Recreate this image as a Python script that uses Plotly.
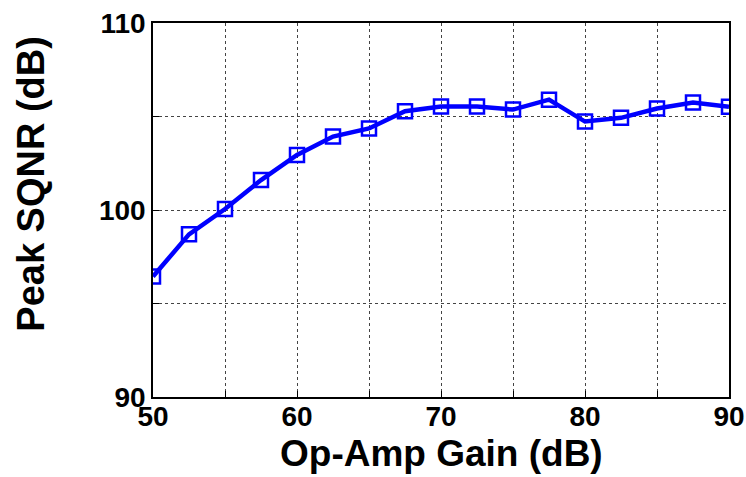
import plotly.graph_objects as go

gain_db = [50, 52.5, 55, 57.5, 60, 62.5, 65, 67.5, 70, 72.5, 75, 77.5, 80, 82.5, 85, 87.5, 90]
peak_sqnr = [96.44, 98.7, 100.05, 101.6, 102.94, 103.93, 104.36, 105.28, 105.53, 105.53,
             105.37, 105.9, 104.73, 104.93, 105.43, 105.75, 105.52]

x_tickvals = [50, 55, 60, 65, 70, 75, 80, 85, 90]
x_ticktext = ["50", "", "60", "", "70", "", "80", "", "90"]
y_tickvals = [90, 95, 100, 105, 110]
y_ticktext = ["90", "", "100", "", "110"]

font_family = "Liberation Sans, Arial, sans-serif"

fig = go.Figure()
fig.add_trace(go.Scatter(
    x=gain_db, y=peak_sqnr, mode="lines+markers",
    line=dict(color="#0000FF", width=4.5),
    marker=dict(symbol="square-open", size=14, color="#0000FF", line=dict(width=2.5, color="#0000FF")),
    showlegend=False,
))

axis_common = dict(
    showline=True, linecolor="black", linewidth=1.5, mirror=True,
    ticks="inside", ticklen=6, tickcolor="black",
    showgrid=True, gridcolor="#444444", gridwidth=1, griddash="dot",
    zeroline=False, automargin=False,
    tickfont=dict(family=font_family, size=28, color="black", weight="bold"),
)

fig.update_xaxes(
    range=[50, 90], tickvals=x_tickvals, ticktext=x_ticktext,
    ticklabelstandoff=-6,
    **axis_common,
)
fig.update_yaxes(
    range=[90, 110], tickvals=y_tickvals, ticktext=y_ticktext,
    **axis_common,
)

fig.add_annotation(
    text="<b>Op-Amp Gain (dB)</b>", xref="paper", yref="paper",
    x=0.5, y=-0.15, xanchor="center", yanchor="middle", showarrow=False,
    font=dict(family=font_family, size=37, color="black"),
)
fig.add_annotation(
    text="<b>Peak SQNR (dB)</b>", xref="paper", yref="paper",
    x=-0.212, y=0.57, xanchor="center", yanchor="middle", showarrow=False,
    textangle=-90,
    font=dict(family=font_family, size=38, color="black"),
)

fig.update_layout(
    width=746, height=477,
    margin=dict(l=153, r=17, t=23, b=80),
    plot_bgcolor="white", paper_bgcolor="white",
)

fig.write_html("out.html")
